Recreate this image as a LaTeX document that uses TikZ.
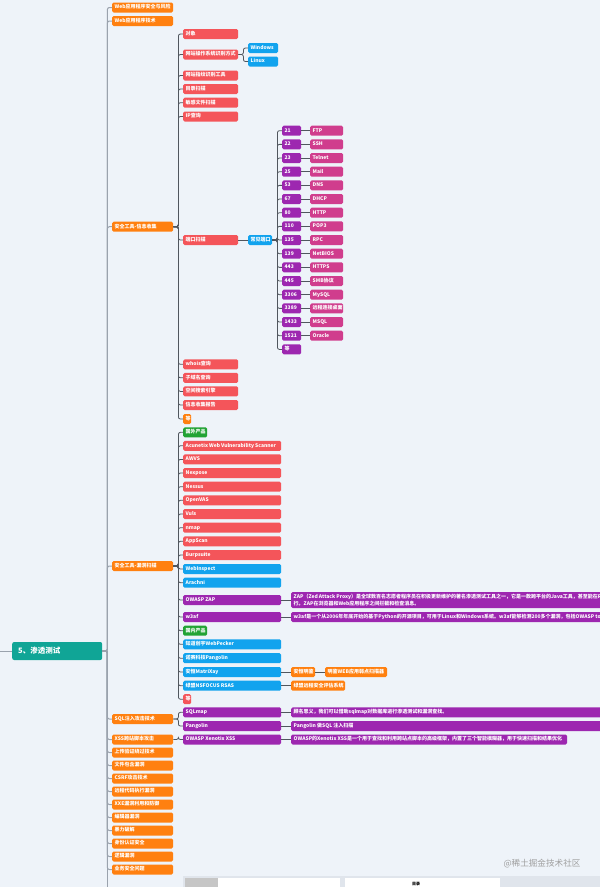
\documentclass[tikz,border=0pt]{standalone}
\usepackage{fontspec}
\setmainfont{Noto Sans CJK SC}
\definecolor{cbg}{HTML}{EEF3F9}
\definecolor{cor}{HTML}{FF8010}
\definecolor{cred}{HTML}{F4555A}
\definecolor{cblu}{HTML}{12A3EE}
\definecolor{cpur}{HTML}{9D27B0}
\definecolor{cmag}{HTML}{D03D8D}
\definecolor{cgrn}{HTML}{22A334}
\definecolor{cteal}{HTML}{10A596}
\definecolor{lnc}{HTML}{50565E}
\definecolor{trc}{HTML}{9AA2AD}
\definecolor{strip}{HTML}{E0E5EC}
\tikzset{
  boxbase/.style={rounded corners=1.5pt, anchor=west, minimum height=10pt, inner xsep=2.5pt, inner ysep=0pt,
    text=white, font=\fontsize{5}{6}\selectfont\bfseries},
  box/.style={boxbase, text height=3.8pt, text depth=1pt},
  ln/.style={draw=lnc, line width=0.8pt, rounded corners=2pt},
  trunk/.style={draw=trc, line width=1pt, rounded corners=2pt}
}
\newcommand\bx[6]{\node[box,fill=#2] (#1) at (#3,#4) {\makebox[\dimexpr #5pt-5pt\relax][l]{#6}};}
\newcommand\ed[2]{\draw[ln] (#1.east) -- ++(5,0) |- (#2.west);}
\newcommand\eh[2]{\draw[ln] (#1.east) -- (#2.west);}
\newcommand\et[1]{\draw[trunk] (root.east) -- ++(5,0) |- (#1.west);}
\begin{document}
\begin{tikzpicture}[x=1pt,y=-1pt]
\useasboundingbox (0,0) rectangle (600,887);
\clip (0,0) rectangle (600,887);
\fill[cbg] (0,0) rectangle (600,887);

% root
\node[rounded corners=2pt, anchor=west, fill=cteal, minimum height=18pt, minimum width=90pt, inner xsep=6pt,
  text=white, font=\fontsize{7.5}{9}\selectfont\bfseries, align=left] (root) at (12,651)
  {\makebox[78pt][l]{5、渗透测试}};
\coordinate (lft) at (0,651);
\draw[trunk] (lft) -- (root.west);
\coordinate (tbot) at (107,887);
\draw[trunk] (107,651) -- (tbot);

% level 1
\bx{a1}{cor}{112}{7.5}{61}{Web应用程序安全与风险}
\bx{a2}{cor}{112}{21}{61}{Web应用程序技术}
\bx{info}{cor}{112}{226.7}{61}{安全工具-信息收集}
\bx{scan}{cor}{112}{566}{61}{安全工具-漏洞扫描}
\bx{sqli}{cor}{112}{719}{61}{SQL注入攻击技术}
\bx{xss}{cor}{112}{739.5}{61}{XSS跨站脚本攻击}
\bx{a7}{cor}{112}{752.5}{61}{上传验证绕过技术}
\bx{a8}{cor}{112}{765.5}{61}{文件包含漏洞}
\bx{a9}{cor}{112}{778.5}{61}{CSRF攻击技术}
\bx{a10}{cor}{112}{791.5}{61}{远程代码执行漏洞}
\bx{a11}{cor}{112}{804.5}{61}{XXE漏洞利用和防御}
\bx{a12}{cor}{112}{817.5}{61}{编辑器漏洞}
\bx{a13}{cor}{112}{830.5}{61}{暴力破解}
\bx{a14}{cor}{112}{843.5}{61}{身份认证安全}
\bx{a15}{cor}{112}{856.5}{61}{逻辑漏洞}
\bx{a16}{cor}{112}{869.5}{61}{业务安全问题}
\foreach \n in {a1,a2,info,scan,sqli,xss,a7,a8,a9,a10,a11,a12,a13,a14,a15,a16} {\et{\n}}

% info gathering
\bx{i1}{cred}{183}{34}{55}{对象}
\bx{i2}{cred}{183}{54.5}{55}{网站操作系统识别方式}
\bx{i3}{cred}{183}{75.5}{55}{网站指纹识别工具}
\bx{i4}{cred}{183}{89}{55}{目录扫描}
\bx{i5}{cred}{183}{102.7}{55}{敏感文件扫描}
\bx{i6}{cred}{183}{116.5}{55}{IP查询}
\bx{i7}{cred}{183}{240}{55}{端口扫描}
\bx{i8}{cred}{183}{364.3}{55}{whois查询}
\bx{i9}{cred}{183}{377.8}{55}{子域名查询}
\bx{i10}{cred}{183}{391.4}{55}{空间搜索引擎}
\bx{i11}{cred}{183}{405}{55}{信息收集报告}
\bx{i12}{cor}{183}{419}{8}{等}
\foreach \n in {i1,i2,i3,i4,i5,i6,i7,i8,i9,i10,i11,i12} {\ed{info}{\n}}

\bx{win}{cblu}{248}{48}{30}{Windows}
\bx{lin}{cblu}{248}{61.5}{30}{Linux}
\ed{i2}{win}\ed{i2}{lin}

\bx{cj}{cblu}{248}{240}{24}{常见端口}
\eh{i7}{cj}
\foreach \i/\a/\b in {0/21/FTP,1/22/SSH,2/23/Telnet,3/25/Mail,4/53/DNS,5/67/DHCP,6/80/HTTP,7/110/POP3,
  8/135/RPC,9/139/NetBIOS,10/443/HTTPS,11/445/SMB协议,12/3306/MySQL,13/3389/远程连接桌面,14/1433/MSQL,15/1521/Oracle} {
  \pgfmathsetmacro\yy{130.7+13.667*\i}
  \bx{p\i}{cpur}{282}{\yy}{19}{\a}
  \bx{n\i}{cmag}{310}{\yy}{33}{\b}
  \ed{cj}{p\i}
  \eh{p\i}{n\i}
}
\bx{p16}{cpur}{282}{349.4}{19}{等}
\ed{cj}{p16}

% vulnerability scanning
\bx{s0}{cgrn}{183}{432.3}{24}{国外产品}
\bx{s1}{cred}{183}{445.8}{98}{Acunetix Web Vulnerability Scanner}
\bx{s2}{cred}{183}{459.4}{98}{AWVS}
\bx{s3}{cred}{183}{473}{98}{Nexpose}
\bx{s4}{cred}{183}{486.7}{98}{Nessus}
\bx{s5}{cred}{183}{500.3}{98}{OpenVAS}
\bx{s6}{cred}{183}{514}{98}{Vuls}
\bx{s7}{cred}{183}{527.7}{98}{nmap}
\bx{s8}{cred}{183}{541.3}{98}{AppScan}
\bx{s9}{cred}{183}{555}{98}{Burpsuite}
\bx{s10}{cblu}{183}{569}{98}{WebInspect}
\bx{s11}{cblu}{183}{582.7}{98}{Arachni}
\bx{s12}{cpur}{183}{600}{98}{OWASP ZAP}
\bx{s13}{cpur}{183}{617}{98}{w3af}
\bx{s14}{cgrn}{183}{630.7}{24}{国内产品}
\bx{s15}{cblu}{183}{644.3}{98}{知道创宇WebPecker}
\bx{s16}{cblu}{183}{658.2}{98}{诺赛科技Pangolin}
\bx{s17}{cblu}{183}{672}{98}{安恒MatriXay}
\bx{s18}{cblu}{183}{685.7}{98}{绿盟NSFOCUS RSAS}
\bx{s19}{cred}{183}{699.2}{8}{等}
\foreach \n in {s0,s1,s2,s3,s4,s5,s6,s7,s8,s9,s10,s11,s12,s13,s14,s15,s16,s17,s18,s19} {\ed{scan}{\n}}

\node[boxbase,fill=cpur,align=left,minimum height=16pt,font=\fontsize{5}{6.5}\selectfont\bfseries] (zt) at (291,600)
 {ZAP（Zed Attack Proxy）是全球数百名志愿者程序员在积极更新维护的著名渗透测试工具之一，它是一款跨平台的Java工具，甚至能在Raspberry Pi上运\\行。ZAP在浏览器和Web应用程序之间拦截和检查消息。};
\eh{s12}{zt}
\bx{wt}{cpur}{291}{617}{340}{w3af是一个从2006年年底开始的基于Python的开源项目，可用于Linux和Windows系统。w3af能够检测200多个漏洞，包括OWASP top 10}
\eh{s13}{wt}
\bx{m1}{cor}{291}{672}{24}{安恒明鉴}
\bx{m2}{cor}{325}{672}{62}{明鉴WEB应用弱点扫描器}
\eh{s17}{m1}\eh{m1}{m2}
\bx{r1}{cor}{291}{685.7}{54}{绿盟远程安全评估系统}
\eh{s18}{r1}

% SQL injection
\bx{q1}{cpur}{183}{712.3}{98}{SQLmap}
\bx{q2}{cpur}{183}{726}{98}{Pangolin}
\ed{sqli}{q1}\ed{sqli}{q2}
\bx{qt1}{cpur}{291}{712.3}{330}{顾名思义，我们可以借助sqlmap对数据库进行渗透测试和漏洞查找。}
\bx{qt2}{cpur}{291}{726}{330}{Pangolin 做SQL 注入扫描}
\eh{q1}{qt1}\eh{q2}{qt2}

% XSS
\bx{x1}{cpur}{183}{739.5}{98}{OWASP Xenotix XSS}
\ed{xss}{x1}
\bx{xt}{cpur}{291}{739.5}{276}{OWASP的Xenotix XSS是一个用于查找和利用跨站点脚本的高级框架，内置了三个智能模糊器，用于快速扫描和结果优化}
\eh{x1}{xt}

% bottom strip and watermark
\fill[strip] (183,876) rectangle (600,887);
\fill[gray!45] (185,878) rectangle (218,887);
\fill[white] (218,878) rectangle (340,887);
\fill[white] (345,878) rectangle (500,887);
\node[font=\fontsize{4}{5}\selectfont\bfseries, text=black, inner sep=0pt] (ml) at (416,884) {目录};
\node[font=\fontsize{8.6}{10}\selectfont, text=gray!75, inner sep=0pt] (wm) at (542,864) {@稀土掘金技术社区};
\end{tikzpicture}
\end{document}
